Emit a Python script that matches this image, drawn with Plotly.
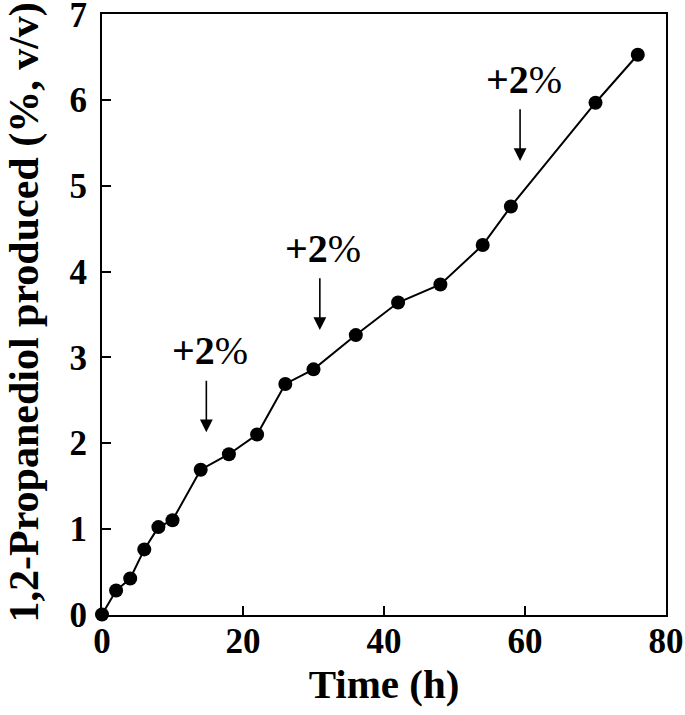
import numpy as np
import plotly.graph_objects as go

# Data
time_h = [0, 2, 4, 6, 8, 10, 14, 18, 22, 26, 30, 36, 42, 48, 54, 58, 70, 76]
propanediol = [0.0, 0.28, 0.42, 0.76, 1.02, 1.10, 1.69, 1.87, 2.10, 2.69,
               2.86, 3.26, 3.64, 3.85, 4.31, 4.76, 5.97, 6.53]
feed_times = [14.8, 30.9, 59.3]
feed_label = "+2%"
x_ticks = [0, 20, 40, 60, 80]
y_ticks = [0, 1, 2, 3, 4, 5, 6, 7]
y_title = "1,2-Propanediol produced (%, v/v)"
x_title = "Time (h)"

FONT = "Liberation Serif"

fig = go.Figure()
fig.add_trace(go.Scatter(
    x=time_h, y=propanediol, mode="lines+markers",
    line=dict(color="black", width=2),
    marker=dict(color="black", size=14),
    showlegend=False, cliponaxis=False,
))

annotations = []
for ft in feed_times:
    base = float(np.interp(ft, time_h, propanediol))
    tip = base + 0.40
    tail = tip + 0.62
    annotations.append(dict(
        x=ft, y=tip, ax=ft, ay=tail, xref="x", yref="y", axref="x", ayref="y",
        showarrow=True, arrowhead=2, arrowsize=1.6, arrowwidth=1.6,
        arrowcolor="black", text="",
    ))
    annotations.append(dict(
        x=ft + 0.5, y=tail + 0.33, xref="x", yref="y", showarrow=False,
        text="<b>+2</b>%",
        font=dict(family=FONT, size=40, color="black"),
    ))

# y-axis title as a rotated annotation so it can sit close to the page edge
annotations.append(dict(
    x=0, y=0.5, xref="paper", yref="paper", showarrow=False,
    text="<b>" + y_title + "</b>", textangle=-90,
    xanchor="center", yanchor="middle", xshift=-78, yshift=2,
    font=dict(family=FONT, size=42, color="black"),
))

tickfont = dict(family=FONT, size=35, color="black", weight="bold")

fig.update_layout(
    width=685, height=715,
    margin=dict(l=102, r=19, t=14, b=100),
    plot_bgcolor="white", paper_bgcolor="white",
    font=dict(family=FONT, color="black"),
    annotations=annotations,
    xaxis=dict(
        range=[0, 80], tickvals=x_ticks, ticks="inside", ticklen=9, tickwidth=2,
        tickcolor="black", showline=True, linecolor="black", linewidth=2,
        mirror=True, showgrid=False, zeroline=False, automargin=False,
        tickfont=tickfont, ticklabelstandoff=-6, ticklabeloverflow="allow",
        title=dict(text="<b>" + x_title + "</b>",
                   font=dict(family=FONT, size=41, color="black"), standoff=6),
    ),
    yaxis=dict(
        range=[-0.005, 7.005], tickvals=y_ticks, ticks="inside", ticklen=9, tickwidth=2,
        tickcolor="black", showline=True, linecolor="black", linewidth=2,
        mirror=True, showgrid=False, zeroline=False, automargin=False,
        tickfont=tickfont, ticklabelstandoff=6, ticklabeloverflow="allow",
    ),
)

fig.write_html("out.html", config={"displayModeBar": False},
               post_script="document.body.style.margin='0';")
